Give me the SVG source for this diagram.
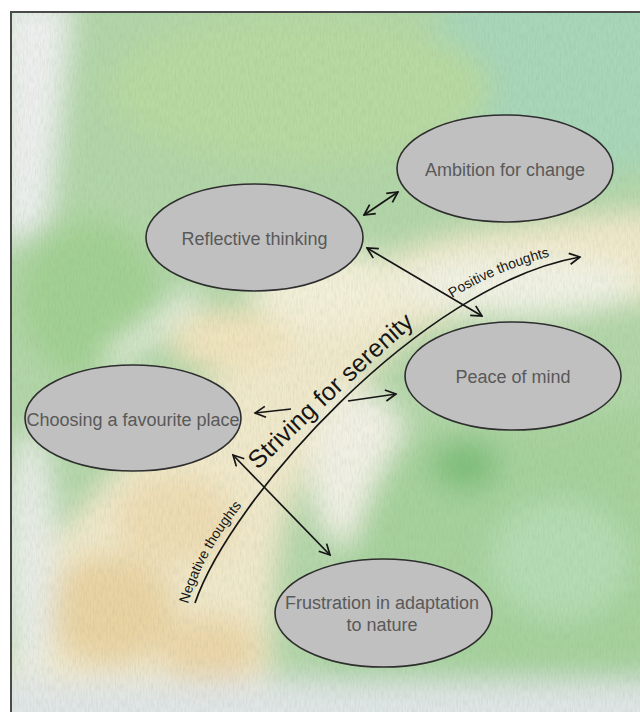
<svg xmlns="http://www.w3.org/2000/svg" width="640" height="712" viewBox="0 0 640 712">
  <defs>
    <style>
      .node ellipse { fill: #c0c0c0; stroke: #2e2e2e; stroke-width: 1.6; }
      .node text { font-family: "Liberation Sans", Arial, sans-serif; font-size: 18px; fill: #595959; text-anchor: middle; }
      .conn { stroke: #161616; stroke-width: 1.7; fill: none; }
      .both { marker-start: url(#tip); marker-end: url(#tip); }
      .one { marker-end: url(#tip); }
      .lbl { font-family: "Liberation Sans", Arial, sans-serif; fill: #161616; }
    </style>
    <marker id="tip" viewBox="0 0 14 14" refX="12.5" refY="7" markerWidth="14" markerHeight="14" markerUnits="userSpaceOnUse" orient="auto-start-reverse">
      <path d="M2,1.5 L12.5,7 L2,12.5" fill="none" stroke="#161616" stroke-width="1.7" stroke-linejoin="miter"/>
    </marker>
    <clipPath id="paper">
      <rect x="11" y="12" width="629" height="700"/>
    </clipPath>
    <filter id="soft" x="-10%" y="-10%" width="120%" height="120%">
      <feGaussianBlur stdDeviation="14"/>
    </filter>
    <filter id="grain" x="0" y="0" width="100%" height="100%">
      <feTurbulence type="fractalNoise" baseFrequency="0.6 0.12" numOctaves="3" seed="7"/>
      <feColorMatrix type="matrix" values="0 0 0 0 0.2  0 0 0 0 0.3  0 0 0 0 0.2  0 0 0 0.55 -0.2"/>
    </filter>
    <!-- baselines for the lettering along the serenity curve -->
    <path id="negPath" d="M188,604 C199,566 220,530 252,494"/>
    <path id="strivePath" d="M258,470 C305,425 372,360 434,308"/>
    <path id="posPath" d="M452,298 C482,279 522,262 568,252"/>
  </defs>

  <!-- watercolour paper -->
  <g id="background" clip-path="url(#paper)">
    <g filter="url(#soft)">
      <rect x="-20" y="-20" width="700" height="760" fill="#b2d5a8"/>
      <ellipse cx="570" cy="70" rx="150" ry="110" fill="#a8d6b8"/>
      <ellipse cx="300" cy="90" rx="190" ry="75" fill="#b8d9a0"/>
      <path d="M0,0 H72 L60,120 L48,220 L0,250 Z" fill="#edefee"/>
      <ellipse cx="90" cy="300" rx="70" ry="80" fill="#a2d093"/>
      <path d="M110,350 L190,290 L205,300 L100,380 Z" fill="#eef2e6"/>
      <path d="M20,600 C60,520 150,430 240,360 C310,300 380,250 460,235 C540,222 600,215 660,210 L660,300 C560,305 470,310 420,330 C370,360 330,420 300,480 C270,540 270,620 270,690 L0,690 Z" fill="#f0e8ca"/>
      <ellipse cx="330" cy="290" rx="80" ry="40" fill="#f3efd8"/>
      <ellipse cx="110" cy="610" rx="65" ry="55" fill="#e9d3a3"/>
      <ellipse cx="210" cy="650" rx="50" ry="35" fill="#ebd6a8"/>
      <ellipse cx="175" cy="520" rx="60" ry="45" fill="#eedcb2"/>
      <ellipse cx="230" cy="340" rx="60" ry="30" fill="#f1e3bd"/>
      <ellipse cx="520" cy="285" rx="120" ry="30" fill="#f1f2e4"/>
      <ellipse cx="360" cy="470" rx="50" ry="80" fill="#f1f0e4"/>
      <path d="M400,440 C450,420 560,430 660,400 L660,700 L330,700 C320,620 360,500 400,440 Z" fill="#a6d19c"/>
      <ellipse cx="465" cy="465" rx="34" ry="26" fill="#80bf7c"/>
      <ellipse cx="560" cy="560" rx="70" ry="60" fill="#b4dcb3"/>
      <ellipse cx="30" cy="560" rx="26" ry="130" fill="#e8ece6"/>
      <rect x="-20" y="680" width="700" height="60" fill="#e0e5e6"/>
    </g>
    <rect x="11" y="12" width="629" height="700" filter="url(#grain)" opacity="0.45"/>
  </g>
  <path id="frame" d="M11,712 V12 H640" fill="none" stroke="#4a4a4a" stroke-width="2"/>

  <!-- connectors -->
  <g id="connectors">
    <path id="serenity-curve" class="conn one" d="M195,603 C230,500 420,285 580,257"/>
    <line class="conn both" x1="364" y1="215" x2="398" y2="192"/>
    <line class="conn both" x1="367" y1="248" x2="482" y2="316"/>
    <line class="conn one" x1="348" y1="401" x2="396" y2="394"/>
    <line class="conn one" x1="291" y1="409" x2="255" y2="413"/>
    <line class="conn both" x1="233" y1="455" x2="330" y2="555"/>
    <text class="lbl" font-size="14"><textPath href="#negPath">Negative thoughts</textPath></text>
    <text class="lbl" font-size="25"><textPath href="#strivePath">Striving for serenity</textPath></text>
    <text class="lbl" font-size="14"><textPath href="#posPath">Positive thoughts</textPath></text>
  </g>

  <!-- nodes -->
  <g id="ambition" class="node">
    <ellipse cx="505" cy="168.5" rx="108" ry="53.5"/>
    <text x="505" y="176">Ambition for change</text>
  </g>
  <g id="reflective" class="node">
    <ellipse cx="254.5" cy="237.5" rx="108.5" ry="53.5"/>
    <text x="254.5" y="245">Reflective thinking</text>
  </g>
  <g id="peace" class="node">
    <ellipse cx="513" cy="376" rx="108" ry="54"/>
    <text x="513" y="383">Peace of mind</text>
  </g>
  <g id="favourite" class="node">
    <ellipse cx="133" cy="418" rx="108" ry="53"/>
    <text x="133" y="426">Choosing a favourite place</text>
  </g>
  <g id="frustration" class="node">
    <ellipse cx="383.5" cy="613" rx="108.5" ry="54"/>
    <text x="382" y="609">Frustration in adaptation</text>
    <text x="382" y="631">to nature</text>
  </g>
</svg>
